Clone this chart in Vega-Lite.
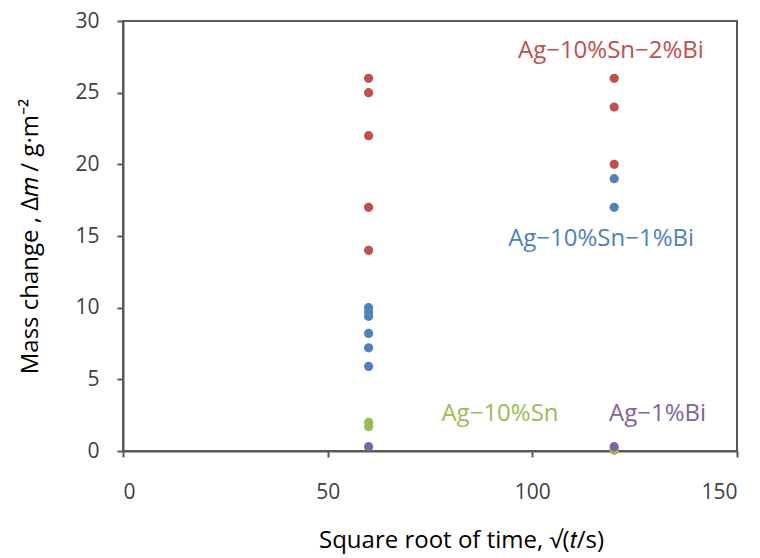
{
  "$schema": "https://vega.github.io/schema/vega-lite/v6.json",
  "autosize": "none",
  "width": 614,
  "height": 430,
  "padding": {"left": 123, "top": 21, "right": 23, "bottom": 107},
  "background": "white",
  "config": {
    "view": {"stroke": "#595959", "strokeWidth": 2},
    "font": "Open Sans"
  },
  "datasets": {
    "pts": [
      {"series": "Ag-10%Sn-2%Bi", "x": 60, "y": 26},
      {"series": "Ag-10%Sn-2%Bi", "x": 60, "y": 25},
      {"series": "Ag-10%Sn-2%Bi", "x": 60, "y": 22},
      {"series": "Ag-10%Sn-2%Bi", "x": 60, "y": 17},
      {"series": "Ag-10%Sn-2%Bi", "x": 60, "y": 14},
      {"series": "Ag-10%Sn-2%Bi", "x": 120, "y": 26},
      {"series": "Ag-10%Sn-2%Bi", "x": 120, "y": 24},
      {"series": "Ag-10%Sn-2%Bi", "x": 120, "y": 20},
      {"series": "Ag-10%Sn-1%Bi", "x": 60, "y": 10},
      {"series": "Ag-10%Sn-1%Bi", "x": 60, "y": 9.7},
      {"series": "Ag-10%Sn-1%Bi", "x": 60, "y": 9.4},
      {"series": "Ag-10%Sn-1%Bi", "x": 60, "y": 8.2},
      {"series": "Ag-10%Sn-1%Bi", "x": 60, "y": 7.2},
      {"series": "Ag-10%Sn-1%Bi", "x": 60, "y": 5.9},
      {"series": "Ag-10%Sn-1%Bi", "x": 120, "y": 19},
      {"series": "Ag-10%Sn-1%Bi", "x": 120, "y": 17},
      {"series": "Ag-10%Sn", "x": 60, "y": 2.0},
      {"series": "Ag-10%Sn", "x": 60, "y": 1.7},
      {"series": "Ag-10%Sn", "x": 120, "y": 0.05},
      {"series": "Ag-1%Bi", "x": 60, "y": 0.3},
      {"series": "Ag-1%Bi", "x": 120, "y": 0.3}
    ],
    "labels": [
      {"series": "Ag-10%Sn-2%Bi", "label": "Ag−10%Sn−2%Bi", "x": 119.2, "y": 27.9},
      {"series": "Ag-10%Sn-1%Bi", "label": "Ag−10%Sn−1%Bi", "x": 116.8, "y": 14.8},
      {"series": "Ag-10%Sn", "label": "Ag−10%Sn", "x": 92.1, "y": 2.6},
      {"series": "Ag-1%Bi", "label": "Ag−1%Bi", "x": 130.6, "y": 2.6}
    ]
  },
  "layer": [
    {
      "data": {"name": "pts"},
      "mark": {"type": "circle", "size": 85, "opacity": 1},
      "encoding": {
        "x": {
          "field": "x", "type": "quantitative",
          "scale": {"domain": [0, 150], "nice": false, "zero": false},
          "axis": {
            "values": [0, 50, 100, 150], "grid": false,
            "title": "Square root of time, √(𝑡/s)",
            "titleFont": "Open Sans", "titleFontSize": 24, "titleFontWeight": "normal", "titleColor": "#000000",
            "titlePadding": 26, "titleX": 338, "titleAlign": "center",
            "labelFontSize": 21, "labelColor": "#404040", "labelPadding": 24,
            "domainColor": "#595959", "domainWidth": 2,
            "tickColor": "#595959", "tickWidth": 2, "tickSize": 6
          }
        },
        "y": {
          "field": "y", "type": "quantitative",
          "scale": {"domain": [0, 30], "nice": false, "zero": false},
          "axis": {
            "values": [0, 5, 10, 15, 20, 25, 30], "grid": false,
            "title": "Mass change , Δ𝑚 / g·m⁻²",
            "titleFont": "Open Sans", "titleFontSize": 24, "titleFontWeight": "normal", "titleColor": "#000000",
            "titlePadding": 32,
            "labelFontSize": 21, "labelColor": "#404040", "labelPadding": 18,
            "domainColor": "#595959", "domainWidth": 2,
            "tickColor": "#595959", "tickWidth": 2, "tickSize": 6
          }
        },
        "color": {
          "field": "series", "type": "nominal",
          "scale": {
            "domain": ["Ag-10%Sn-2%Bi", "Ag-10%Sn-1%Bi", "Ag-10%Sn", "Ag-1%Bi"],
            "range": ["#c0504d", "#4f81bd", "#9bbb59", "#8064a2"]
          },
          "legend": null
        }
      }
    },
    {
      "data": {"name": "labels"},
      "mark": {"type": "text", "fontSize": 24, "align": "center", "baseline": "middle", "font": "Open Sans"},
      "encoding": {
        "x": {"field": "x", "type": "quantitative"},
        "y": {"field": "y", "type": "quantitative"},
        "text": {"field": "label"},
        "color": {"field": "series", "type": "nominal", "legend": null}
      }
    }
  ]
}
